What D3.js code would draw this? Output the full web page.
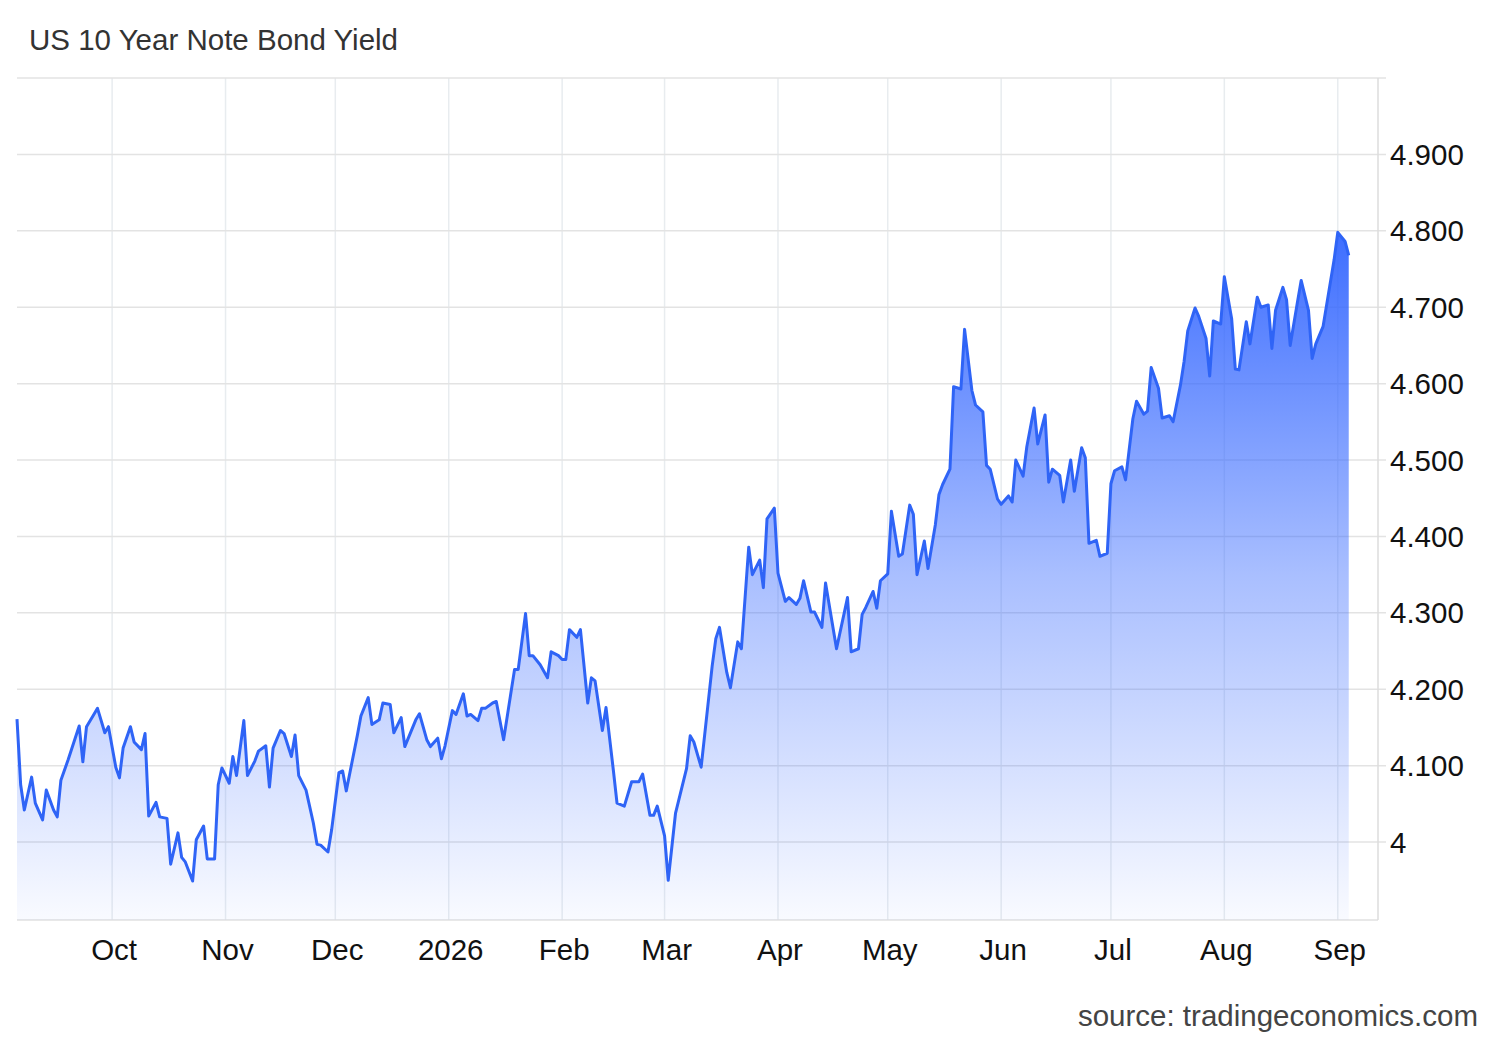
<!DOCTYPE html>
<html><head><meta charset="utf-8">
<script src="https://cdn.jsdelivr.net/npm/d3@7"></script>
<style>body{margin:0;background:#fff;font-family:Arial,"Liberation Sans",sans-serif}</style>
</head><body>
<svg id="c" width="1500" height="1040"></svg>
<script>
const title = "US 10 Year Note Bond Yield";
const source = "source: tradingeconomics.com";
const startDate = "2025-09-05";
const dayOffsets = [0,1,2,4,5,7,8,10,11,12,14,17,18,19,21,22,24,25,27,28,29,31,32,34,35,36,38,39,41,42,44,45,46,48,49,51,52,54,55,56,58,59,60,62,63,65,66,68,69,70,72,73,75,76,77,79,81,82,83,85,86,88,89,90,93,94,96,97,99,100,102,103,105,106,109,110,112,113,115,116,117,119,120,122,123,124,126,127,128,130,131,133,136,137,139,140,141,143,145,146,148,149,150,151,153,154,156,157,158,160,161,163,164,166,168,170,171,173,174,175,177,178,180,183,184,185,187,190,191,192,194,195,197,198,200,201,203,204,205,207,208,210,211,213,214,215,217,218,220,221,224,227,228,230,231,232,234,235,236,238,239,241,242,244,245,246,248,249,251,252,253,255,256,258,259,261,262,264,265,266,268,269,271,272,273,275,276,278,279,281,282,283,285,286,288,289,291,292,293,295,296,298,299,300,302,303,305,306,308,309,310,312,313,315,316,318,319,320,322,323,325,326,327,329,330,332,333,334,336,337,339,340,342,343,344,346,347,348,350,351,353,354,355,357,360,361,363,364];
const yields = [4.161,4.075,4.042,4.085,4.051,4.029,4.068,4.042,4.033,4.081,4.108,4.152,4.105,4.151,4.167,4.175,4.143,4.151,4.098,4.084,4.123,4.151,4.131,4.121,4.142,4.034,4.052,4.033,4.031,3.971,4.012,3.980,3.974,3.949,4.003,4.021,3.978,3.978,4.075,4.097,4.077,4.112,4.087,4.159,4.087,4.106,4.119,4.126,4.072,4.123,4.146,4.142,4.112,4.140,4.087,4.068,4.025,3.997,3.996,3.987,4.016,4.091,4.093,4.067,4.139,4.165,4.189,4.154,4.160,4.182,4.180,4.143,4.163,4.125,4.160,4.168,4.134,4.125,4.136,4.109,4.126,4.172,4.167,4.194,4.165,4.167,4.159,4.175,4.175,4.182,4.184,4.134,4.226,4.226,4.299,4.244,4.244,4.232,4.215,4.249,4.244,4.239,4.239,4.278,4.268,4.278,4.182,4.215,4.211,4.146,4.176,4.094,4.051,4.047,4.079,4.079,4.089,4.035,4.035,4.047,4.008,3.950,4.038,4.096,4.139,4.131,4.098,4.230,4.266,4.281,4.222,4.202,4.262,4.253,4.386,4.350,4.369,4.333,4.423,4.437,4.352,4.315,4.320,4.311,4.319,4.342,4.301,4.301,4.281,4.339,4.253,4.320,4.249,4.253,4.298,4.307,4.328,4.306,4.342,4.351,4.433,4.374,4.377,4.441,4.429,4.350,4.394,4.358,4.415,4.455,4.468,4.488,4.596,4.593,4.671,4.591,4.572,4.563,4.493,4.488,4.449,4.442,4.453,4.445,4.500,4.479,4.517,4.568,4.521,4.559,4.471,4.488,4.480,4.445,4.500,4.459,4.516,4.503,4.391,4.395,4.374,4.378,4.469,4.486,4.491,4.474,4.554,4.577,4.560,4.564,4.621,4.594,4.555,4.558,4.550,4.598,4.629,4.669,4.699,4.688,4.659,4.610,4.682,4.678,4.740,4.685,4.619,4.618,4.681,4.652,4.713,4.700,4.703,4.646,4.696,4.726,4.710,4.650,4.707,4.735,4.696,4.633,4.652,4.675,4.762,4.798,4.786,4.768];
const yTicks = [4.0,4.1,4.2,4.3,4.4,4.5,4.6,4.7,4.8,4.9];
const monthTicks = ["2025-10-01","2025-11-01","2025-12-01","2026-01-01","2026-02-01","2026-03-01","2026-04-01","2026-05-01","2026-06-01","2026-07-01","2026-08-01","2026-09-01"];
const monthLabels = ["Oct","Nov","Dec","2026","Feb","Mar","Apr","May","Jun","Jul","Aug","Sep"];

const svg = d3.select("#c");
const L=17,R=1378,T=78,B=920;
const p = d3.timeParse("%Y-%m-%d");
const s0 = p(startDate);
const data = dayOffsets.map((d,i)=>({date:d3.timeDay.offset(s0,d), v:yields[i]}));
const x = d3.scaleTime().domain([s0, d3.timeDay.offset(s0,372.5)]).range([L,R]);
const y = d3.scaleLinear().domain([3.898,5.0]).range([B,T]);

const defs = svg.append("defs");
const g = defs.append("linearGradient").attr("id","gr").attr("gradientUnits","userSpaceOnUse")
  .attr("x1",0).attr("x2",0).attr("y1",y(4.8)).attr("y2",B);
g.append("stop").attr("offset",0).attr("stop-color","#3366ff").attr("stop-opacity",0.95);
g.append("stop").attr("offset",0.5).attr("stop-color","#3366ff").attr("stop-opacity",0.42);
g.append("stop").attr("offset",1).attr("stop-color","#3366ff").attr("stop-opacity",0.03);

svg.append("g").selectAll("line").data(monthTicks).join("line")
  .attr("x1",d=>x(p(d))).attr("x2",d=>x(p(d))).attr("y1",T).attr("y2",B)
  .attr("stroke","#e8ecef").attr("stroke-width",1.5);
svg.append("g").selectAll("line").data(yTicks.concat([5.0])).join("line")
  .attr("x1",L).attr("x2",R+8).attr("y1",d=>y(d)).attr("y2",d=>y(d))
  .attr("stroke","#e3e3e3").attr("stroke-width",1.5);
svg.append("line").attr("x1",L).attr("x2",R).attr("y1",B).attr("y2",B).attr("stroke","#e0e0e0").attr("stroke-width",1.5);
svg.append("line").attr("x1",R).attr("x2",R).attr("y1",T).attr("y2",B).attr("stroke","#ddd").attr("stroke-width",1.5);

svg.append("path").datum(data).attr("fill","url(#gr)")
  .attr("d",d3.area().x(d=>x(d.date)).y0(B).y1(d=>y(d.v)));
svg.append("path").datum(data).attr("fill","none").attr("stroke","#2f64f6").attr("stroke-width",3).attr("stroke-linejoin","round")
  .attr("d",d3.line().x(d=>x(d.date)).y(d=>y(d.v)));

svg.append("g").selectAll("text").data(yTicks).join("text")
  .attr("x",R+12).attr("y",d=>y(d)).attr("dy","0.36em")
  .attr("font-size",29.5).attr("fill","#111")
  .text(d=>d===4?"4":d.toFixed(3));
svg.append("g").selectAll("text").data(monthTicks).join("text")
  .attr("x",d=>x(p(d))+2).attr("y",960).attr("text-anchor","middle")
  .attr("font-size",29.5).attr("fill","#111")
  .text((d,i)=>monthLabels[i]);

svg.append("text").attr("x",29).attr("y",50).attr("font-size",29.5).attr("fill","#333").text(title);
svg.append("text").attr("x",1478).attr("y",1026).attr("text-anchor","end").attr("font-size",29.5).attr("fill","#444").text(source);
</script>
</body></html>
